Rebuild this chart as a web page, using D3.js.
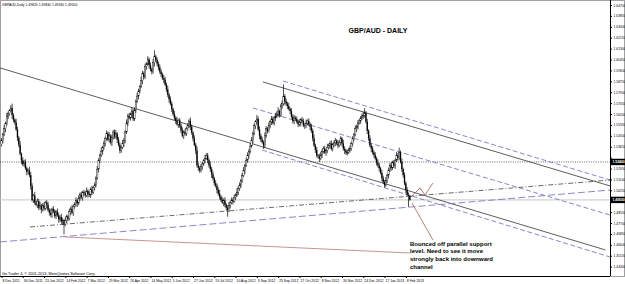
<!DOCTYPE html>
<html>
<head>
<meta charset="utf-8">
<script src="https://cdn.jsdelivr.net/npm/d3@7"></script>
<style>
body { margin: 0; background: #fff; }
svg { display: block; font-family: "Liberation Sans", Arial, sans-serif; }
</style>
</head>
<body>
<svg id="chart"></svg>
<script>

let symbol = "GBPAUD,Daily"
let title = "GBP/AUD - DAILY"
let copyright = "Go Trader 4, \u00a9 2001-2013, MetaQuotes Software Corp."
let noteLines = ["Bounced off parallel support", "level. Need to see it move", "strongly back into downward", "channel"]

// one label every 16 daily bars
let dateLabels = ["8 Dec 2011", "30 Dec 2011", "23 Jan 2012", "14 Feb 2012", "7 Mar 2012", "29 Mar 2012",
    "20 Apr 2012", "14 May 2012", "5 Jun 2012", "27 Jun 2012", "19 Jul 2012", "10 Aug 2012", "3 Sep 2012",
    "25 Sep 2012", "17 Oct 2012", "8 Nov 2012", "30 Nov 2012", "24 Dec 2012", "17 Jan 2013", "8 Feb 2013"]

let priceTicks = [1.4430, 1.4515, 1.4600, 1.4685, 1.4770, 1.4855, 1.4940, 1.5025, 1.5110, 1.5195, 1.5280,
    1.5365, 1.5450, 1.5535, 1.5620, 1.5705, 1.5790, 1.5875, 1.5960, 1.6045, 1.6130, 1.6215, 1.6300, 1.6385, 1.6470]

let firstOpen = 1.5380
let closes = [
 1.5412,1.5460,1.5505,1.5548,1.5605,1.5622,1.5648,1.5666,1.5610,1.5575,
 1.5555,1.5500,1.5435,1.5380,1.5310,1.5258,1.5230,1.5245,1.5196,1.5170,
 1.5180,1.5143,1.5060,1.4950,1.4985,1.4930,1.4912,1.4940,1.4890,1.4905,
 1.4873,1.4905,1.4885,1.4930,1.4912,1.4870,1.4850,1.4835,1.4880,1.4860,
 1.4825,1.4858,1.4830,1.4800,1.4815,1.4781,1.4790,1.4758,1.4790,1.4820,
 1.4805,1.4858,1.4880,1.4850,1.4900,1.4912,1.4945,1.4925,1.4965,1.4990,
 1.4970,1.5010,1.5004,1.4985,1.5020,1.4995,1.4989,1.5030,1.5010,1.5045,
 1.5066,1.5120,1.5190,1.5258,1.5300,1.5330,1.5358,1.5390,1.5430,1.5466,
 1.5420,1.5450,1.5400,1.5435,1.5480,1.5445,1.5466,1.5420,1.5380,1.5335,
 1.5360,1.5390,1.5412,1.5480,1.5550,1.5605,1.5590,1.5620,1.5643,1.5582,
 1.5650,1.5720,1.5760,1.5800,1.5836,1.5880,1.5936,1.5910,1.5990,1.6010,
 1.6043,1.6000,1.5970,1.5951,1.6020,1.6067,1.6040,1.6013,1.5985,1.5951,
 1.5930,1.5900,1.5889,1.5850,1.5812,1.5770,1.5735,1.5700,1.5658,1.5620,
 1.5590,1.5566,1.5540,1.5570,1.5528,1.5490,1.5451,1.5480,1.5470,1.5505,
 1.5530,1.5566,1.5520,1.5474,1.5430,1.5380,1.5335,1.5220,1.5200,1.5181,
 1.5210,1.5230,1.5258,1.5275,1.5297,1.5260,1.5220,1.5190,1.5150,1.5119,
 1.5080,1.5060,1.5027,1.5000,1.4975,1.4950,1.4930,1.4945,1.4912,1.4890,
 1.4873,1.4905,1.4930,1.4950,1.4940,1.4970,1.4989,1.5010,1.5040,1.5066,
 1.5100,1.5140,1.5181,1.5220,1.5260,1.5297,1.5330,1.5370,1.5412,1.5470,
 1.5528,1.5560,1.5582,1.5500,1.5451,1.5420,1.5400,1.5374,1.5450,1.5505,
 1.5490,1.5528,1.5560,1.5582,1.5550,1.5590,1.5605,1.5620,1.5643,1.5610,
 1.5682,1.5700,1.5759,1.5720,1.5700,1.5682,1.5660,1.5643,1.5600,1.5566,
 1.5590,1.5582,1.5560,1.5540,1.5551,1.5575,1.5566,1.5530,1.5528,1.5550,
 1.5566,1.5540,1.5520,1.5489,1.5430,1.5374,1.5340,1.5297,1.5290,1.5273,
 1.5300,1.5330,1.5350,1.5320,1.5335,1.5360,1.5374,1.5390,1.5350,1.5380,
 1.5395,1.5412,1.5390,1.5374,1.5400,1.5427,1.5390,1.5350,1.5335,1.5320,
 1.5320,1.5340,1.5350,1.5390,1.5427,1.5460,1.5505,1.5520,1.5550,1.5566,
 1.5590,1.5605,1.5610,1.5628,1.5560,1.5489,1.5430,1.5374,1.5350,1.5320,
 1.5300,1.5273,1.5240,1.5220,1.5196,1.5160,1.5119,1.5090,1.5066,1.5100,
 1.5143,1.5180,1.5220,1.5200,1.5240,1.5220,1.5260,1.5297,1.5280,1.5320,
 1.5250,1.5190,1.5143,1.5080,1.5027,1.4990,1.4982,1.4950]

// wick lengths in pips above / below the candle body
let upperWick = [
 20,15,30,12,25,18,10,22,35,15, 12,28,20,15,30,10,25,18,22,14, 16,30,25,20,12,28,15,22,18,30,
 14,20,26,12,18,24,15,30,10,22, 18,12,25,20,15,28,22,10,30,16, 12,24,18,30,15,20,26,14,22,18,
 25,12,20,16,28,14,22,18,30,12, 20,15,26,18,12,30,16,22,14,25, 18,28,12,24,16,20,30,14,22,18,
 12,26,20,15,28,18,24,12,30,16, 22,14,26,18,12,30,20,16,24,14, 28,18,22,12,30,50,16,20,14,22,
 18,12,25,20,15,28,14,22,18,12, 24,16,30,12,20,18,26,14,22,16, 20,14,28,18,12,24,16,30,20,14,
 22,16,12,26,18,20,14,28,16,22, 12,24,18,20,30,14,22,16,26,12, 18,28,14,20,16,24,12,30,18,22,
 14,20,26,12,18,24,16,22,28,14, 20,12,30,18,24,16,22,14,26,20, 16,28,12,22,18,14,24,20,30,12,
 18,24,92,16,20,14,26,12,22,18, 24,14,20,16,28,12,22,18,14,26, 12,20,16,24,18,30,14,22,12,20,
 26,14,18,22,12,28,16,20,24,14, 18,22,12,26,16,20,14,28,18,12, 22,16,24,14,20,12,26,18,22,16,
 14,20,28,38,16,22,12,24,18,20, 16,22,14,26,18,12,24,20,16,28, 12,22,18,24,16,20,14,26,18,38,
 16,24,12,20,14,22,18,2]
let lowerWick = [
 14,22,12,28,18,25,16,10,30,20, 18,12,26,20,14,30,16,22,12,28, 22,16,30,14,24,18,12,26,20,15,
 28,14,20,16,30,12,22,18,26,14, 16,24,12,28,20,18,26,77,14,22, 20,16,28,12,24,18,14,30,16,22,
 14,26,20,18,12,28,16,24,20,14, 22,18,12,26,20,14,28,16,22,18, 12,24,18,30,14,20,16,26,12,22,
 18,14,28,20,16,24,12,22,30,18, 16,22,12,26,18,14,28,20,16,24, 12,26,18,22,16,30,14,20,24,18,
 22,16,28,12,20,18,26,14,22,16, 18,24,12,28,16,20,14,26,18,22, 14,20,26,16,22,12,28,18,24,20,
 16,26,14,20,12,24,18,22,30,16, 20,14,26,18,22,16,12,28,20,24, 54,18,22,14,26,12,20,16,24,18,
 22,16,12,28,14,20,26,18,12,22, 16,24,20,14,28,18,12,26,20,16, 22,14,18,26,12,20,24,16,22,18,
 14,20,16,28,18,22,12,24,16,20, 26,18,14,22,16,28,20,12,24,18, 20,14,26,18,22,12,24,16,20,28,
 14,22,18,12,26,20,16,24,14,22, 18,26,14,20,12,24,22,16,28,18, 24,12,20,16,22,18,14,26,20,12,
 22,16,24,18,14,26,20,12,28,16, 20,14,22,18,26,12,24,16,20,14, 18,26,12,22,16,20,28,14,24,18,
 16,22,20,14,26,18,86,7]

let levelPrice = 1.5246

// trend lines drawn on the chart: [bar, price] anchors
let channelLines = [
    {a: [-1, 1.5979], b: [454, 1.4560], dash: null, color: "#333"},
    {a: [196.6, 1.5870], b: [457.5, 1.5059], dash: null, color: "#333"},
    {a: [211.7, 1.5877], b: [457.5, 1.5105], dash: "5,2.5", color: "#6a6ab8"},
    {a: [189.1, 1.5667], b: [457.5, 1.4832], dash: "5,2.5", color: "#6a6ab8"},
    {a: [195.9, 1.5339], b: [457.5, 1.4505], dash: "5,2.5", color: "#6a6ab8"},
    {a: [21.4, 1.4739], b: [457.5, 1.5105], dash: "5,2,1,2", color: "#444"},
    {a: [-1.1, 1.4622], b: [457.5, 1.5027], dash: "7,3", color: "#6a6ab8"},
    {a: [47.7, 1.4661], b: [307.1, 1.4536], dash: null, color: "#b87878"},
    {a: [324.4, 1.4637], b: [308.6, 1.4926], dash: null, color: "#a85c5c"}
]
let zigzag = [[307.9, 1.4973], [314.7, 1.5043], [318.4, 1.4988], [324.4, 1.5082]]

function buildCandles() {
    let out = []
    let open = firstOpen
    for (let i = 0; i < closes.length; i++) {
        let c = closes[i]
        out.push({
            i: i, o: open, c: c,
            h: Math.max(open, c) + upperWick[i] / 10000,
            l: Math.min(open, c) - lowerWick[i] / 10000
        })
        open = c
    }
    return out
}

function drawChart() {
    let w = 625, h = 284
    let right = 610, top = 1, bottom = 276

    let svg = d3.select("#chart").attr("width", w).attr("height", h)

    let x = d3.scaleLinear().domain([0, 457.5]).range([1.5, right])
    let y = d3.scaleLinear().domain([1.4430, 1.6470]).range([266.6, 5])

    let candles = buildCandles()
    let last = candles[candles.length - 1]

    svg.append("rect").attr("x", 0.5).attr("y", 0.5).attr("width", w - 1).attr("height", bottom)
        .attr("fill", "#fff").attr("stroke", "#a0a0a0")

    svg.append("clipPath").attr("id", "plot-clip")
        .append("rect").attr("x", 0).attr("y", top).attr("width", right).attr("height", bottom - top)

    let plot = svg.append("g").attr("clip-path", "url(#plot-clip)")

    // bid line and horizontal level
    plot.append("line").attr("x1", 0).attr("x2", right)
        .attr("y1", y(last.c)).attr("y2", y(last.c))
        .attr("stroke", "#c8c8c8").attr("stroke-width", 1)
    plot.append("line").attr("x1", 0).attr("x2", right)
        .attr("y1", y(levelPrice)).attr("y2", y(levelPrice))
        .attr("stroke", "#222").attr("stroke-width", 0.7).attr("stroke-dasharray", "1,1.3")

    plot.selectAll(".trend")
        .data(channelLines)
        .enter()
        .append("line")
        .attr("class", "trend")
        .attr("x1", d => x(d.a[0])).attr("y1", d => y(d.a[1]))
        .attr("x2", d => x(d.b[0])).attr("y2", d => y(d.b[1]))
        .attr("stroke", d => d.color)
        .attr("stroke-width", 0.8)
        .attr("stroke-dasharray", d => d.dash)

    plot.append("path")
        .attr("d", d3.line().x(d => x(d[0])).y(d => y(d[1]))(zigzag))
        .attr("fill", "none").attr("stroke", "#a85c5c").attr("stroke-width", 0.8)

    // candles
    let bars = plot.selectAll(".candle")
        .data(candles)
        .enter()
        .append("g")
        .attr("class", "candle")

    bars.append("line")
        .attr("x1", d => x(d.i)).attr("x2", d => x(d.i))
        .attr("y1", d => y(d.h)).attr("y2", d => y(d.l))
        .attr("stroke", "#000").attr("stroke-width", 0.7)

    bars.append("rect")
        .attr("x", d => x(d.i) - 0.65)
        .attr("width", 1.3)
        .attr("y", d => y(Math.max(d.o, d.c)))
        .attr("height", d => Math.max(0.6, Math.abs(y(d.o) - y(d.c))))
        .attr("fill", d => d.c >= d.o ? "#fff" : "#000")
        .attr("stroke", "#000")
        .attr("stroke-width", d => d.c >= d.o ? 0.4 : 0)

    // texts
    let fmt = d3.format(".5f")
    svg.append("text").attr("x", 2).attr("y", 6)
        .attr("font-size", 3.4).attr("fill", "#000")
        .text(symbol + "  " + [last.o, last.h, last.l, last.c].map(fmt).join(" "))

    svg.append("text").attr("x", 378).attr("y", 33)
        .attr("text-anchor", "middle")
        .attr("font-size", 7).attr("font-weight", "bold")
        .text(title)

    svg.append("g").selectAll("text")
        .data(noteLines)
        .enter()
        .append("text")
        .attr("x", 410)
        .attr("y", (d, i) => 245.5 + i * 7.7)
        .attr("font-size", 6).attr("font-weight", "bold")
        .text(d => d)

    svg.append("text").attr("x", 2).attr("y", 275)
        .attr("font-size", 3.8).attr("fill", "#000")
        .text(copyright)

    // price boxes on the scale
    let boxes = [levelPrice, last.c]

    // axes
    let yAxis = d3.axisRight(y).tickValues(priceTicks).tickFormat(fmt).tickSize(2).tickPadding(1.5)
    let gy = svg.append("g").attr("transform", "translate(" + right + ",0)").call(yAxis)
    gy.select(".domain").attr("d", "M0.5," + 0 + "V" + bottom)
    gy.selectAll("text").attr("font-size", 3.4).attr("fill", "#000")
    // MT4 hides scale labels that sit under a price box
    gy.selectAll(".tick text")
        .filter(d => boxes.some(b => Math.abs(y(b) - y(d)) < 5.5))
        .remove()

    let dateIdx = dateLabels.map((d, i) => i * 16)
    let xAxis = d3.axisBottom(x).tickValues(dateIdx).tickFormat((d, i) => dateLabels[i]).tickSize(2).tickPadding(2)
    let gx = svg.append("g").attr("transform", "translate(0," + bottom + ")").call(xAxis)
    gx.select(".domain").attr("d", "M0,0.5H" + right)
    gx.selectAll("text").attr("font-size", 3.4).attr("fill", "#000")
        .attr("text-anchor", "start").attr("dx", 0.5)

    let bg = svg.append("g").selectAll("g").data(boxes).enter().append("g")
        .attr("transform", d => "translate(" + (right + 1) + "," + y(d) + ")")
    bg.append("rect").attr("x", 0).attr("y", -3.2).attr("width", 16).attr("height", 6.4).attr("fill", "#000")
    bg.append("text").attr("x", 1.5).attr("y", 1.3).attr("font-size", 3.4).attr("fill", "#fff")
        .attr("font-weight", "bold").text(d => fmt(d))
}

drawChart()
</script>
</body>
</html>
